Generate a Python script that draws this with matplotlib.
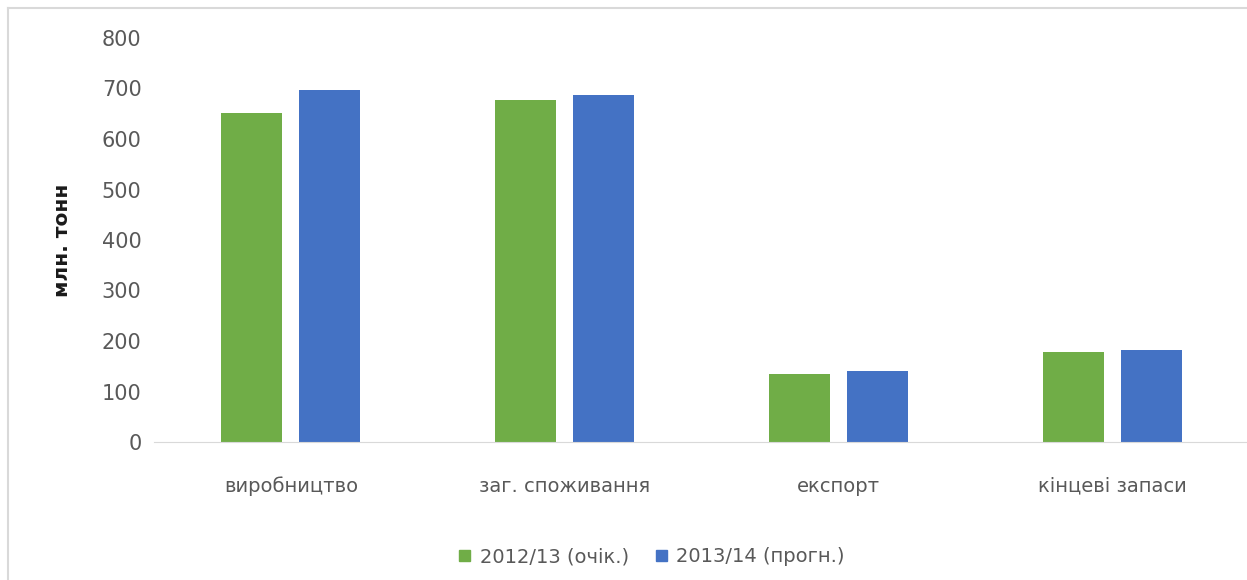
import numpy as np
import matplotlib.pyplot as plt
from matplotlib.patches import Rectangle
from matplotlib.lines import Line2D

categories = ['виробництво', 'заг. споживання', 'експорт', 'кінцеві запаси']
series_names = ['2012/13 (очік.)', '2013/14 (прогн.)']
vals_2012 = [652, 677, 135, 178]
vals_2013 = [697, 687, 141, 182]
colors = ['#70ad47', '#4472c4']

plt.rcParams['font.family'] = ['DejaVu Sans']

fig = plt.figure(figsize=(12.47, 5.8), dpi=100)
ax = fig.add_axes([154 / 1247, 1 - 442 / 580, (1249 - 154) / 1247, (442 - 38) / 580])

x = np.arange(len(categories))
w = 0.223
gap = 0.062
ax.bar(x - (w + gap) / 2, vals_2012, w, color=colors[0], label=series_names[0])
ax.bar(x + (w + gap) / 2, vals_2013, w, color=colors[1], label=series_names[1])

ax.set_xlim(-0.5, len(categories) - 0.5)
ax.set_ylim(0, 800)
ax.set_yticks(range(0, 801, 100))
ax.set_xticks(x)
ax.set_xticklabels(categories, fontsize=14)
for s in ['top', 'right', 'left']:
    ax.spines[s].set_visible(False)
ax.spines['bottom'].set_color('#d9d9d9')
ax.tick_params(axis='both', length=0, colors='#595959')
ax.tick_params(axis='y', pad=9, labelsize=15)
ax.tick_params(axis='x', pad=25)
ax.set_ylabel('млн. тонн', fontsize=14.5, fontweight='bold', color='#1a1a1a')
ax.yaxis.set_label_coords(-82 / 1095, 0.5)

handles = [Rectangle((0, 0), 1, 1, color=c) for c in colors]
fig.legend(handles, series_names, loc='center', bbox_to_anchor=(652 / 1247, 1 - 557 / 580),
           ncol=2, frameon=False, prop={'size': 14}, labelcolor='#595959',
           handlelength=0.55, handleheight=0.55, handletextpad=0.5, columnspacing=1.4)

# chart border
fig.add_artist(Line2D([8 / 1247, 8 / 1247], [0, 1 - 8 / 580], color='#d9d9d9', lw=1.5))
fig.add_artist(Line2D([8 / 1247, 1], [1 - 8 / 580, 1 - 8 / 580], color='#d9d9d9', lw=1.5))

fig.savefig('out.png', dpi=100)
